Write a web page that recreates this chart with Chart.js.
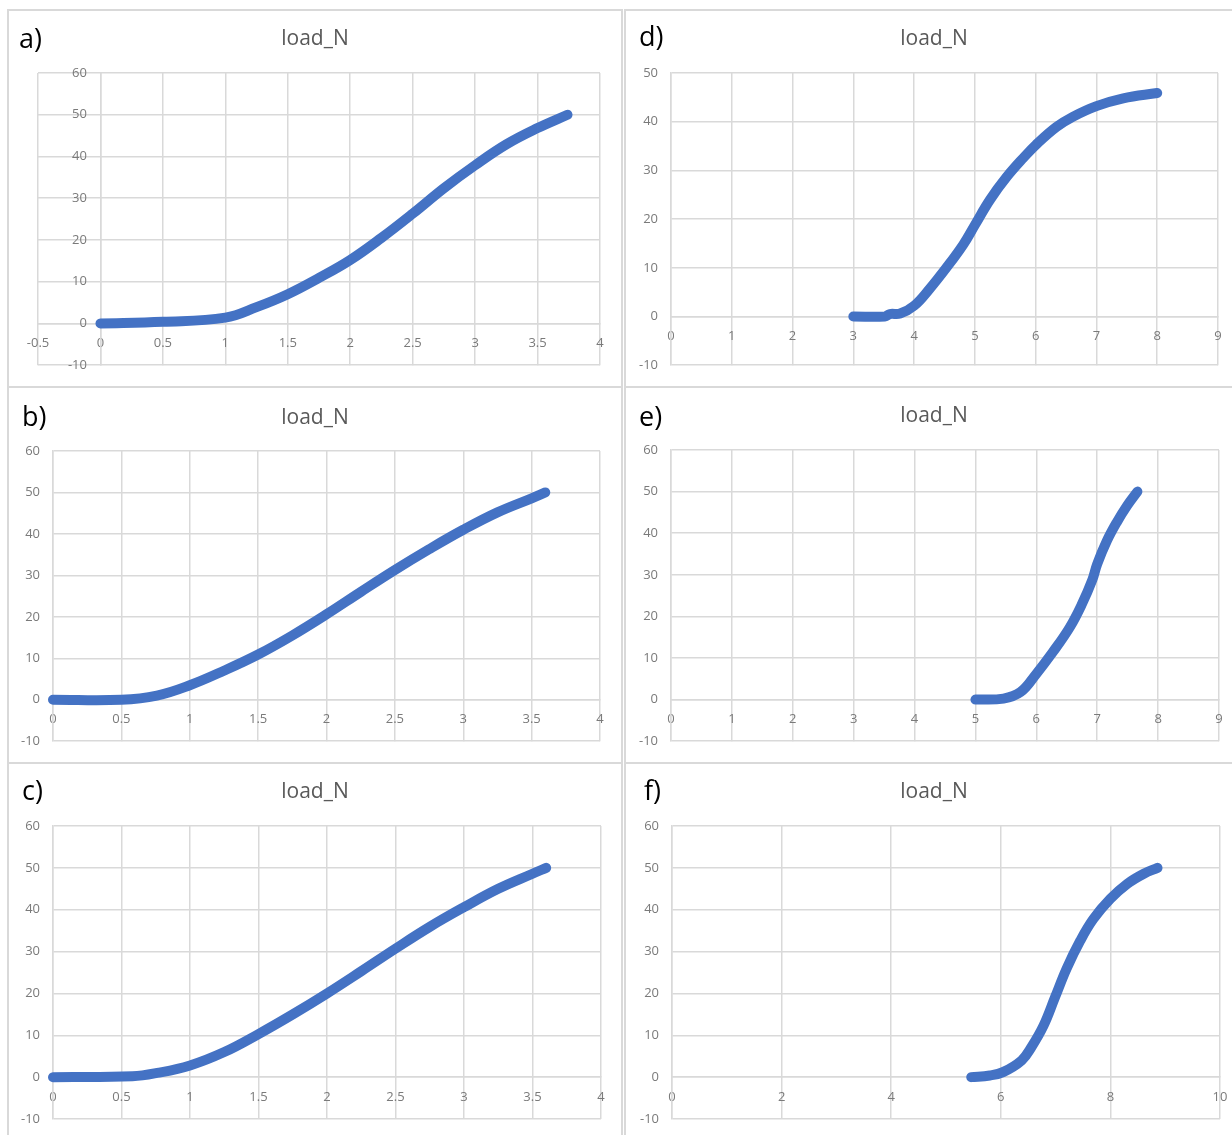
<!DOCTYPE html>
<html>
<head>
<meta charset="utf-8">
<script src="https://cdn.jsdelivr.net/npm/chart.js@4.4.1/dist/chart.umd.min.js"></script>
<style>
  body { margin: 0; background: #fff; overflow: hidden; width: 1232px; height: 1135px; position: relative; font-family: 'Open Sans', sans-serif; }
  .panel { position: absolute; border: 2px solid #d9d9d9; box-sizing: border-box; background: #fff; }
  .panel canvas { position: absolute; left: 0; top: 0; }
  .tag { position: absolute; font-size: 27px; line-height: 1; color: #000; }
</style>
</head>
<body>
<div class="panel" style="left:7px;top:9px;width:616px;height:379px"><canvas id="chartA" width="612" height="375"></canvas><div class="tag" style="left:10px;top:13px">a)</div></div>
<div class="panel" style="left:7px;top:386px;width:616px;height:378px"><canvas id="chartB" width="612" height="374"></canvas><div class="tag" style="left:13px;top:14px">b)</div></div>
<div class="panel" style="left:7px;top:762px;width:616px;height:390px"><canvas id="chartC" width="612" height="386"></canvas><div class="tag" style="left:13px;top:12px">c)</div></div>
<div class="panel" style="left:624px;top:9px;width:620px;height:379px"><canvas id="chartD" width="616" height="375"></canvas><div class="tag" style="left:13px;top:11px">d)</div></div>
<div class="panel" style="left:624px;top:386px;width:620px;height:378px"><canvas id="chartE" width="616" height="374"></canvas><div class="tag" style="left:13px;top:14px">e)</div></div>
<div class="panel" style="left:624px;top:762px;width:620px;height:390px"><canvas id="chartF" width="616" height="386"></canvas><div class="tag" style="left:18px;top:12px">f)</div></div>
<script>
// values (displacement vs load_N)
const dispA = [0, 0.5, 1.0, 1.25, 1.5, 1.75, 2.0, 2.25, 2.5, 2.75, 3.0, 3.25, 3.5, 3.74];
const loadA = [0, 0.4, 1.4, 3.9, 7.0, 10.9, 15.2, 20.5, 26.3, 32.4, 37.9, 42.9, 46.8, 50];

const dispB = [0, 0.5, 0.76, 1.0, 1.25, 1.5, 1.75, 2.0, 2.25, 2.5, 2.75, 3.0, 3.25, 3.5, 3.6];
const loadB = [0, 0, 1.0, 3.5, 7.0, 10.9, 15.5, 20.6, 26.0, 31.3, 36.3, 41.0, 45.2, 48.6, 50];

const dispC = [0, 0.58, 0.76, 1.0, 1.25, 1.5, 1.75, 2.0, 2.25, 2.5, 2.75, 3.0, 3.25, 3.5, 3.6];
const loadC = [0, 0.2, 1.0, 2.8, 6.0, 10.3, 15.0, 20.0, 25.3, 30.7, 35.9, 40.6, 45.0, 48.6, 50];

const dispD = [3.0, 3.52, 3.6, 3.77, 4.0, 4.25, 4.53, 4.81, 5.0, 5.25, 5.52, 5.8, 6.0, 6.34, 6.61, 7.0, 7.44, 8.0];
const loadD = [0, 0, 0.5, 0.6, 2.2, 5.6, 10.0, 14.8, 18.8, 24.0, 28.6, 32.6, 35.2, 38.9, 41.0, 43.2, 44.8, 45.9];

const dispE = [5.0, 5.46, 5.74, 6.0, 6.27, 6.55, 6.75, 6.92, 7.0, 7.16, 7.32, 7.49, 7.66];
const loadE = [0, 0.25, 1.8, 6.2, 11.4, 17.4, 23.0, 28.8, 32.6, 38.2, 42.6, 46.6, 50];

const dispF = [5.46, 5.8, 6.04, 6.38, 6.56, 6.78, 6.99, 7.2, 7.45, 7.69, 8.0, 8.31, 8.61, 8.86];
const loadF = [0, 0.4, 1.2, 4.0, 7.2, 12.3, 19.1, 25.9, 32.6, 37.8, 42.6, 46.2, 48.6, 50];

const titleText = 'load_N';
const gridColor = '#d9d9d9';
const tickColor = '#7a7a7a';

// invisible axis that only reserves space, so the title stays centred on the whole panel
function spacer(position, size) {
  return {
    type: 'linear', position: position, min: 0, max: 1, display: true,
    grid: { display: false }, border: { display: false }, ticks: { display: false },
    afterFit: s => { s.width = size; }
  };
}

function makeChart(id, xs, ys, o) {
  const canvas = document.getElementById(id);
  const w = canvas.width, h = canvas.height;
  const scales = {
    x: {
      type: 'linear',
      min: o.xMin, max: o.xMax,
      position: { y: 0 },
      afterFit: s => { s.height = 0; },
      grid: { color: gridColor, lineWidth: 1.5, drawTicks: false },
      border: { color: gridColor, width: 1.5 },
      ticks: {
        stepSize: o.xStep, autoSkip: false, maxRotation: 0, padding: 12,
        color: tickColor, font: { family: 'Open Sans', size: 13 },
        callback: v => String(+v.toFixed(2))
      }
    },
    y: {
      type: 'linear',
      min: -10, max: o.yMax,
      position: o.yAtZero ? { x: 0 } : 'left',
      afterFit: s => { s.width = o.yAtZero ? 0 : o.left; },
      grid: { color: gridColor, lineWidth: 1.5, drawTicks: false },
      border: { color: gridColor, width: 1.5 },
      ticks: {
        stepSize: 10, autoSkip: false, padding: 13,
        color: tickColor, font: { family: 'Open Sans', size: 13 },
        // axis crossing at x = 0 draws labels flush with the line, so pad with spaces
        callback: v => o.yAtZero ? v + '    ' : String(v)
      }
    },
    padR: spacer('right', w - o.right)
  };
  if (o.yAtZero) scales.padL = spacer('left', o.left);

  return new Chart(canvas, {
    type: 'scatter',
    data: {
      datasets: [{
        data: xs.map((x, i) => ({ x: x, y: ys[i] })),
        xAxisID: 'x',
        yAxisID: 'y',
        showLine: true,
        borderColor: '#4472C4',
        backgroundColor: '#4472C4',
        borderWidth: 10,
        pointRadius: 0,
        borderCapStyle: 'round',
        borderJoinStyle: 'round',
        tension: 0.4,
        clip: false
      }]
    },
    options: {
      responsive: false,
      animation: false,
      layout: { padding: { left: 0, right: 0, top: 0, bottom: h - o.bottom } },
      plugins: {
        legend: { display: false },
        tooltip: { enabled: false },
        title: {
          display: true,
          text: titleText,
          color: '#595959',
          font: { family: 'Open Sans', size: 21, weight: 'normal', lineHeight: 1.2 },
          padding: { top: o.titleY - 12.6, bottom: o.top - o.titleY - 12.6 }
        }
      },
      scales: scales
    }
  });
}

makeChart('chartA', dispA, loadA, { xMin: -0.5, xMax: 4, xStep: 0.5, yMax: 60, yAtZero: true, left: 29, right: 591, top: 62, bottom: 357, titleY: 28 });
makeChart('chartB', dispB, loadB, { xMin: 0, xMax: 4, xStep: 0.5, yMax: 60, left: 44, right: 591, top: 63, bottom: 357, titleY: 30 });
makeChart('chartC', dispC, loadC, { xMin: 0, xMax: 4, xStep: 0.5, yMax: 60, left: 44, right: 592, top: 62, bottom: 355, titleY: 28 });
makeChart('chartD', dispD, loadD, { xMin: 0, xMax: 9, xStep: 1, yMax: 50, left: 45, right: 592, top: 62, bottom: 356, titleY: 28 });
makeChart('chartE', dispE, loadE, { xMin: 0, xMax: 9, xStep: 1, yMax: 60, left: 45, right: 593, top: 62, bottom: 356, titleY: 28 });
makeChart('chartF', dispF, loadF, { xMin: 0, xMax: 10, xStep: 2, yMax: 60, left: 46, right: 594, top: 62, bottom: 355, titleY: 28 });
</script>
</body>
</html>
